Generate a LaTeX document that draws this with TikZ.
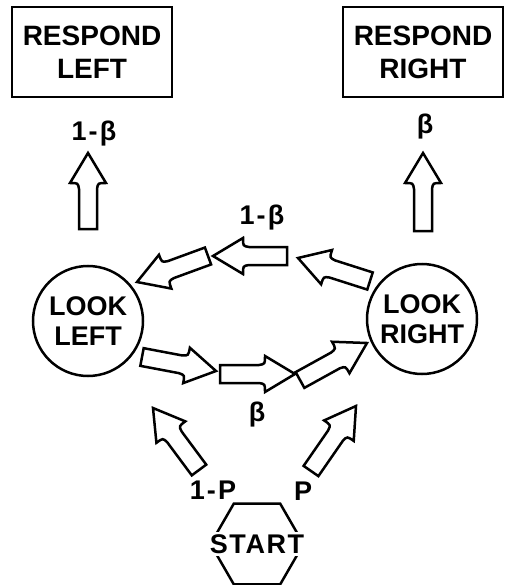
\documentclass[tikz,border=0pt]{standalone}
\usepackage{fontspec}
\setmainfont{Liberation Sans}
\usetikzlibrary{calc,shapes.geometric}
\tikzset{
    respond-box/.style = {draw, line width=2.5pt, rectangle, minimum width=160pt, minimum height=90pt, inner sep=0pt, align=center, font=\fontsize{28}{33}\selectfont\bfseries},
    look-circle/.style = {draw, line width=2.5pt, circle, minimum size=110pt, inner sep=0pt, align=center, font=\fontsize{27}{30}\selectfont\bfseries},
    start-hex/.style = {draw, line width=2.5pt, regular polygon, regular polygon sides=6, minimum size=93pt, inner sep=0pt},
    start-text/.style = {fill=white, inner sep=2pt, font=\fontsize{27}{30}\selectfont\bfseries\addfontfeature{LetterSpace=6}},
    prob-label/.style = {anchor=base, inner sep=0pt, font=\fontsize{27}{30}\selectfont\bfseries\addfontfeature{LetterSpace=8}},
    block-arrow/.style = {draw, line width=2.5pt, line join=miter, fill=white},
}
\newcommand{\blockarrow}[2]{%
    \path ($(#2)!30pt!(#1)$) coordinate (ba-b) ($(#2)!36pt!(#1)$) coordinate (ba-s);
    \draw[block-arrow] ($(#1)!9pt!90:(#2)$) -- ($(ba-s)!9pt!90:(#2)$)
        .. controls ($(ba-b)!10pt!90:(#2)$) .. ($(ba-b)!18pt!90:(#2)$) -- (#2)
        -- ($(ba-b)!18pt!-90:(#2)$) .. controls ($(ba-b)!10pt!-90:(#2)$) .. ($(ba-s)!9pt!-90:(#2)$)
        -- ($(#1)!9pt!-90:(#2)$) -- cycle;
}

\begin{document}
\begin{tikzpicture}[x=1pt, y=-1pt]
\useasboundingbox (0,0) rectangle (506,585);

\node[respond-box] (resp-left) at (92,52) {RESPOND\\LEFT};
\node[respond-box] (resp-right) at (423,52) {RESPOND\\RIGHT};
\node[look-circle] (look-left) at (88,321) {LOOK\\LEFT};
\node[look-circle] (look-right) at (422,319) {LOOK\\RIGHT};
\node[start-hex] (start) at (257,544) {};
\node[start-text] (start-text) at (start) {START};

\node[prob-label] (p-resp-left) at (94,141) {1-β};
\node[prob-label] (p-resp-right) at (425,134) {β};
\node[prob-label] (p-top) at (262,224) {1-β};
\node[prob-label] (p-bottom) at (257,421) {β};
\node[prob-label] (p-start-left) at (213,499) {1-P};
\node[prob-label] (p-start-right) at (303,500) {P};

\path (88,229) coordinate (up-left-tail) (88,153) coordinate (up-left-tip)
      (423,231) coordinate (up-right-tail) (423,153) coordinate (up-right-tip)
      (287,256) coordinate (top-mid-tail) (213,256) coordinate (top-mid-tip)
      (208,256) coordinate (top-left-tail) (137,282) coordinate (top-left-tip)
      (370,281) coordinate (top-right-tail) (298,258) coordinate (top-right-tip)
      (142,357) coordinate (bot-left-tail) (216,371) coordinate (bot-left-tip)
      (220,374) coordinate (bot-mid-tail) (295,374) coordinate (bot-mid-tip)
      (300,380) coordinate (bot-right-tail) (367,343) coordinate (bot-right-tip)
      (199,470) coordinate (start-left-tail) (153,408) coordinate (start-left-tip)
      (311,471) coordinate (start-right-tail) (356,406) coordinate (start-right-tip);

\blockarrow{up-left-tail}{up-left-tip}
\blockarrow{up-right-tail}{up-right-tip}
\blockarrow{top-mid-tail}{top-mid-tip}
\blockarrow{top-left-tail}{top-left-tip}
\blockarrow{top-right-tail}{top-right-tip}
\blockarrow{bot-left-tail}{bot-left-tip}
\blockarrow{bot-mid-tail}{bot-mid-tip}
\blockarrow{bot-right-tail}{bot-right-tip}
\blockarrow{start-left-tail}{start-left-tip}
\blockarrow{start-right-tail}{start-right-tip}
\end{tikzpicture}
\end{document}
